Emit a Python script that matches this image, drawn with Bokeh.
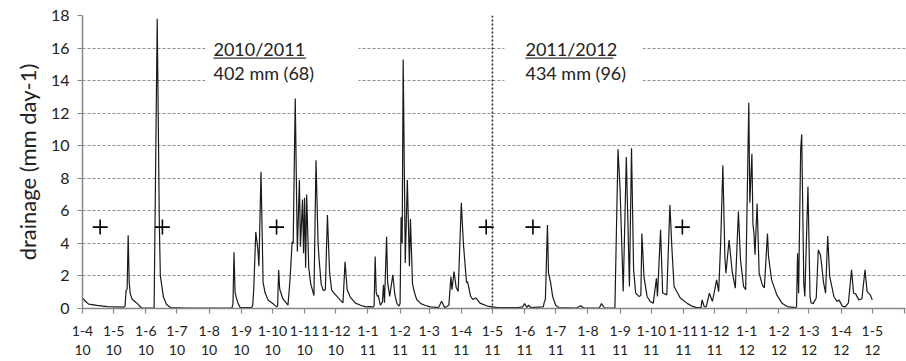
import pandas as pd
from bokeh.plotting import figure
from bokeh.models import Range1d, FixedTicker, BoxAnnotation, Label, Span
from bokeh.embed import file_html
from bokeh.resources import INLINE

# ---------------- data ----------------
START = pd.Timestamp("2010-04-01")          # day 0 of the series

# daily drainage (mm day-1), read as breakpoints: day offset from START, value
day = [0, 3, 6, 14, 24, 40, 41, 42, 43, 44, 45, 46, 48, 51, 53, 55, 57,
       69, 72, 74, 75, 78, 81, 85, 100, 144, 145, 146, 147, 148, 150, 152,
       163, 164, 165, 167, 169, 170, 172, 174, 176, 179, 184, 187, 188, 189, 190, 193, 198,
       200, 202, 203, 205, 207, 209, 210, 212, 213, 214, 215, 216, 218, 220, 223,
       225, 227, 228, 230, 232, 234, 236, 238, 240, 243, 248, 251, 253, 255, 258,
       263, 268, 273, 277, 280, 281, 282, 283, 284, 285, 287, 289, 290, 291, 293,
       294, 296, 299, 301, 303, 305, 306, 307, 308, 309, 311, 313, 315, 316, 318,
       320, 322, 326, 330, 335, 343, 346, 349, 353, 355, 356, 358, 360, 362, 365,
       367, 370, 371, 374, 376, 379, 383, 390, 395, 400, 410, 420, 424, 426, 428,
       430, 432, 444, 445, 446, 448, 449, 451, 453, 456, 459, 476, 480, 483, 498,
       500, 503, 513, 516, 518, 521, 524, 527, 529, 531, 533, 536, 538, 539, 541,
       544, 547, 550, 553, 554, 557, 559, 563, 566, 568, 570, 576, 583, 587, 592,
       596, 597, 599, 601, 604, 607, 611, 613, 615, 617, 619, 620, 623, 626, 629,
       632, 634, 637, 639, 642, 643, 645, 646, 647, 648, 650, 652, 655, 657, 660,
       661, 664, 669, 674, 679, 687, 688, 689, 690, 692, 693, 695, 696, 699, 701,
       702, 704, 707, 709, 711, 712, 714, 716, 718, 720, 724, 727, 729, 732, 735,
       738, 741, 743, 745, 748, 751, 754, 756, 759, 761]
drainage = [0.65, 0.43, 0.27, 0.19, 0.12, 0.08, 0.15, 1.1, 1.2, 4.5, 1.6, 0.9, 0.55, 0.4, 0.3, 0.15, 0.03,
            0.02, 17.8, 5.3, 2.0, 0.7, 0.25, 0.05, 0.02, 0.02, 0.3, 3.45, 1.0, 0.7, 0.3, 0.05,
            0.05, 0.2, 1.2, 4.7, 3.6, 2.6, 8.4, 1.6, 0.95, 0.5, 0.27, 0.1, 0.15, 2.37, 1.2, 0.6, 0.2,
            1.8, 4.1, 4.0, 12.9, 3.5, 7.9, 3.8, 6.7, 3.4, 6.8, 2.5, 7.0, 2.5, 1.5, 0.8,
            9.1, 4.0, 3.0, 1.5, 1.1, 1.15, 5.75, 2.3, 1.15, 0.9, 0.55, 0.35, 2.87, 1.15, 0.7,
            0.33, 0.2, 0.1, 0.12, 0.08, 0.2, 3.2, 1.0, 0.75, 0.8, 0.2, 0.4, 1.45, 0.35, 4.4,
            1.6, 0.75, 2.07, 0.84, 0.3, 0.15, 0.3, 5.6, 4.0, 15.3, 2.8, 7.9, 2.6, 5.5, 1.5,
            0.95, 0.55, 0.3, 0.2, 0.1, 0.05, 0.45, 0.05, 0.2, 1.96, 1.15, 2.27, 1.3, 1.04, 6.5,
            4.0, 1.6, 1.65, 0.75, 0.55, 0.65, 0.33, 0.15, 0.1, 0.05, 0.06, 0.05, 0.1, 0.3, 0.08,
            0.2, 0.05, 0.1, 0.4, 0.55, 5.13, 2.2, 1.6, 0.74, 0.2, 0.05, 0.03, 0.17, 0.03, 0.03,
            0.3, 0.03, 0.02, 9.78, 7.3, 1.04, 9.3, 1.35, 9.84, 2.4, 0.95, 0.74, 0.8, 4.6, 1.96,
            0.74, 0.43, 0.33, 1.86, 0.74, 4.83, 0.95, 0.84, 6.36, 3.6, 1.35, 0.64, 0.3, 0.15, 0.05,
            0.05, 0.53, 0.12, 0.1, 0.94, 0.43, 1.76, 1.04, 4.2, 8.8, 3.1, 2.17, 4.2, 2.27, 1.25,
            5.95, 3.0, 1.35, 1.15, 12.64, 6.5, 9.5, 5.2, 4.6, 3.3, 6.45, 2.17, 1.45, 1.27, 4.6,
            3.2, 1.76, 0.84, 0.33, 0.12, 0.05, 0.1, 3.4, 0.94, 9.8, 10.7, 1.5, 0.74, 7.5, 0.74,
            0.35, 0.3, 0.65, 3.6, 3.3, 2.8, 1.6, 0.94, 4.46, 1.96, 0.74, 0.43, 0.53, 0.15, 0.1,
            0.35, 2.37, 0.94, 0.9, 0.53, 0.6, 2.37, 1.04, 0.84, 0.53]

# "+" markers
event_day = [17, 77, 187, 389, 434, 578]
event_value = [5, 5, 5, 5, 5, 5]

season_split = "2011-05-01"
season_names = ["2010/2011", "2011/2012"]
season_totals = ["402 mm (68)", "434 mm (96)"]

month_starts = pd.date_range("2010-04-01", "2012-06-01", freq="MS")
tick_labels = ["1-4\n10", "1-5\n10", "1-6\n10", "1-7\n10", "1-8\n10", "1-9\n10", "1-10\n10",
               "1-11\n10", "1-12\n10", "1-1\n11", "1-2\n11", "1-3\n11", "1-4\n11", "1-5\n11",
               "1-6\n11", "1-7\n11", "1-8\n11", "1-9\n11", "1-10\n11", "1-11\n11", "1-12\n11",
               "1-1\n12", "1-2\n12", "1-3\n12", "1-4\n12", "1-5\n12", ""]
y_ticks = [0, 2, 4, 6, 8, 10, 12, 14, 16, 18]

# ---------------- figure ----------------
FONT = "Lato"
tick_pos = [int((d - START).days) for d in month_starts]

p = figure(width=906, height=361, output_backend="svg", toolbar_location=None,
           x_range=Range1d(0, 793), y_range=Range1d(0, 18),
           min_border_left=82, min_border_right=1, min_border_top=15, min_border_bottom=52)
p.outline_line_color = None
p.background_fill_color = "white"

p.xgrid.visible = False
p.ygrid.grid_line_color = "#8f8f8f"
p.ygrid.grid_line_dash = "3 2"
p.ygrid.grid_line_width = 1

# white boxes behind the season texts (interrupt grid lines)
split_day = int((pd.Timestamp(season_split) - START).days)
p.add_layout(BoxAnnotation(left=118.5, right=266, bottom=13.3, top=16.8,
                           fill_color="white", fill_alpha=1.0, line_alpha=0, level="underlay"))
p.add_layout(BoxAnnotation(left=406.5, right=539.5, bottom=13.3, top=16.8,
                           fill_color="white", fill_alpha=1.0, line_alpha=0, level="underlay"))

p.add_layout(Span(location=split_day, dimension="height", line_color="#222222",
                  line_dash="2 2", line_width=1.5))

p.line(day, drainage, line_color="#1a1a1a", line_width=1.2)

p.scatter(event_day, event_value, marker="cross", size=15, line_color="black", line_width=1.6)

# season annotations
for xs, name, total in [(126.2, season_names[0], season_totals[0]),
                        (426.8, season_names[1], season_totals[1])]:
    p.add_layout(Label(x=xs, y=15.95, text=name, text_font=FONT, text_font_size="18px",
                       text_color="#222222", text_baseline="middle", text_align="left"))
    p.add_layout(Label(x=xs, y=14.46, text=total, text_font=FONT, text_font_size="18px",
                       text_color="#222222", text_baseline="middle", text_align="left"))
p.segment(x0=[126.2, 426.8], y0=[15.38, 15.38], x1=[215.5, 511.5], y1=[15.38, 15.38],
          line_color="#333333", line_width=1.2)

# axes
for ax in (p.xaxis[0], p.yaxis[0]):
    ax.axis_line_color = "#868686"
    ax.axis_line_width = 1.5
    ax.major_tick_line_color = "#868686"
    ax.major_tick_line_width = 1.2
    ax.major_tick_in = 0
    ax.major_tick_out = 5
    ax.minor_tick_line_color = None
    ax.major_label_text_font = FONT
    ax.major_label_text_color = "#222222"

p.yaxis.ticker = FixedTicker(ticks=y_ticks)
p.yaxis.major_label_text_font_size = "16px"
p.yaxis.major_label_standoff = 8
p.yaxis.axis_label = "drainage (mm day-1)"
p.yaxis.axis_label_text_font = FONT
p.yaxis.axis_label_text_font_size = "22px"
p.yaxis.axis_label_text_font_style = "normal"
p.yaxis.axis_label_text_color = "#222222"
p.yaxis.axis_label_standoff = 7

p.xaxis.ticker = FixedTicker(ticks=tick_pos)
p.xaxis.major_label_overrides = {pos: lab for pos, lab in zip(tick_pos, tick_labels)}
p.xaxis.major_label_text_font_size = "14px"
p.xaxis.major_label_text_line_height = 1.17
p.xaxis.major_label_standoff = 8

open("out.html", "w").write(file_html(p, INLINE))
